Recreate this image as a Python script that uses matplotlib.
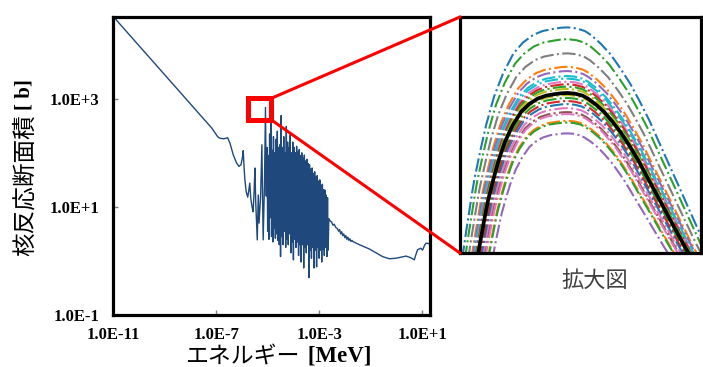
import numpy as np
import matplotlib
matplotlib.use("Agg")
import matplotlib.pyplot as plt
from matplotlib.patches import Rectangle, ConnectionPatch
from matplotlib.ticker import NullLocator

# ---------------- main chart data (log10 of energy [MeV] and cross section [b]) ----------------
log10_e_thermal = [-11.00, -7.18, -6.95, -6.86, -6.72, -6.62, -6.56, -6.47, -6.34, -6.21, -6.12, -6.04, -5.98, -5.955]
log10_xs_thermal = [4.52, 2.46, 2.30, 2.27, 2.26, 2.27, 2.28, 2.18, 1.96, 1.81, 1.75, 1.78, 1.93, 2.04]

log10_e_low_res = [-5.92, -5.89, -5.84, -5.78, -5.74, -5.70, -5.66, -5.61, -5.57, -5.53, -5.50,
                   -5.47, -5.43, -5.41, -5.37, -5.34, -5.28, -5.23, -5.18, -5.13, -5.09, -5.06]
log10_xs_low_res = [1.72, 1.50, 1.28, 1.18, 1.30, 1.44, 1.15, 1.00, 0.91, 1.30, 1.72,
                    1.10, 0.60, 0.39, 1.22, 0.70, 1.19, 2.15, 0.39, 1.40, 2.84, 1.20]

log10_e_res = [
    -5.030, -5.005, -4.980, -4.955, -4.930, -4.905, -4.880, -4.855, -4.830, -4.805,
    -4.780, -4.755, -4.730, -4.705, -4.680, -4.655, -4.630, -4.605, -4.580, -4.555,
    -4.530, -4.505, -4.480, -4.455, -4.430, -4.405, -4.380, -4.355, -4.330, -4.305,
    -4.280, -4.255, -4.230, -4.205, -4.180, -4.155, -4.130, -4.105, -4.080, -4.055,
    -4.030, -4.005, -3.980, -3.955, -3.930, -3.905, -3.880, -3.855, -3.830, -3.805,
    -3.780, -3.755, -3.730, -3.705, -3.680, -3.655, -3.630, -3.605, -3.580, -3.555,
    -3.530, -3.505, -3.480, -3.455, -3.430, -3.405, -3.380, -3.355, -3.330, -3.305,
    -3.280, -3.255, -3.230, -3.205, -3.180, -3.155, -3.130, -3.105, -3.080, -3.055,
    -3.030, -3.005, -2.980, -2.955, -2.930, -2.905, -2.880, -2.855, -2.830, -2.805,
    -2.780, -2.755, -2.730, -2.705, -2.680, -2.655]
log10_xs_res = [
    2.10, 0.55, 1.95, 0.40, 2.35, 0.80, 2.76, 0.45, 2.05, 0.35,
    2.30, 0.60, 2.00, 0.42, 2.25, 0.50, 2.40, 0.38, 2.10, 0.30,
    2.15, 0.08, 2.69, 0.45, 2.10, 0.30, 2.30, 0.55, 2.00, 0.25,
    2.49, 0.40, 2.20, 0.30, 2.10, 0.50, 2.33, 0.15, 2.00, 0.35,
    2.20, 0.02, 2.10, 0.40, 2.00, 0.25, 2.12, 0.35, 2.02, 0.10,
    2.06, 0.30, 1.95, -0.02, 2.00, 0.30, 1.90, -0.13, 1.96, 0.25,
    1.85, 0.15, 1.88, 0.30, 1.80, -0.31, 1.78, 0.20, 1.70, 0.05,
    1.72, 0.25, 1.62, -0.13, 1.65, 0.20, 1.55, -0.11, 1.58, 0.25,
    1.48, 0.05, 1.50, 0.20, 1.40, -0.02, 1.42, 0.22, 1.32, 0.10,
    1.31, 0.25, 1.22, 0.08, 1.17, 0.20]

log10_e_fast = [-2.63, -2.58, -2.52, -2.47, -2.42, -2.36, -2.30, -2.25, -2.21, -2.17, -2.13, -2.09,
                -2.05, -2.01, -1.97, -1.93, -1.89, -1.85, -1.81, -1.77, -1.73, -1.70, -1.44, -1.05,
                -0.54, -0.28, -0.02, 0.37, 0.55, 0.69, 0.74, 0.82, 0.95, 1.01, 1.10, 1.15, 1.25, 1.30]
log10_xs_fast = [0.78, 0.74, 0.72, 0.66, 0.68, 0.62, 0.60, 0.55, 0.58, 0.50, 0.54, 0.47,
                 0.50, 0.43, 0.47, 0.40, 0.44, 0.38, 0.41, 0.36, 0.38, 0.36, 0.30, 0.22,
                 0.08, 0.04, 0.05, 0.09, 0.06, 0.02, 0.10, 0.21, 0.235, 0.20, 0.30, 0.33, 0.32, 0.32]

x_ticks = [1e-11, 1e-7, 1e-3, 1e1]
x_tick_labels = ["1.0E-11", "1.0E-7", "1.0E-3", "1.0E+1"]
y_ticks = [1e-1, 1e1, 1e3]
y_tick_labels = ["1.0E-1", "1.0E+1", "1.0E+3"]

zoom_box_energy = [1.76e-6, 1.37e-5]
zoom_box_xs = [407, 1021]

# ---------------- inset (magnified peak) data ----------------
inset_profile_dx = [-0.50, -0.45, -0.40, -0.372, -0.36, -0.35, -0.34, -0.331, -0.31, -0.29,
                    -0.262, -0.23, -0.193, -0.16, -0.124, -0.09, -0.055, -0.025, 0.0,
                    0.03, 0.06, 0.082, 0.115, 0.151, 0.185, 0.220, 0.255, 0.289, 0.323,
                    0.358, 0.392, 0.427, 0.455, 0.482, 0.50, 0.55, 0.65]
inset_profile_y = [-0.75, -0.45, -0.16, 0.000, 0.07, 0.125, 0.18, 0.225, 0.31, 0.385,
                   0.470, 0.540, 0.600, 0.632, 0.655, 0.667, 0.673, 0.677, 0.678,
                   0.675, 0.667, 0.655, 0.630, 0.597, 0.556, 0.510, 0.455, 0.398, 0.333,
                   0.267, 0.203, 0.136, 0.083, 0.032, 0.000, -0.10, -0.30]
inset_peak_x = 0.448
inset_ref_peak = 0.678
inset_peaks = [0.956, 0.906, 0.846, 0.789, 0.771, 0.750, 0.739, 0.726, 0.715, 0.705, 0.695,
               0.669, 0.657, 0.644, 0.631, 0.614, 0.597, 0.589, 0.560, 0.553, 0.507]
inset_widths = [1.170, 1.139, 1.103, 1.068, 1.057, 1.044, 1.037, 1.029, 1.023, 1.017, 1.010,
                0.991, 0.979, 0.966, 0.953, 0.937, 0.920, 0.912, 0.883, 0.876, 0.830]
inset_colors = ["#1f77b4", "#2ca02c", "#7f7f7f", "#ff7f0e", "#9467bd", "#17becf", "#17becf",
                "#e377c2", "#d62728", "#2ca02c", "#bcbd22",
                "#bcbd22", "#2ca02c", "#d62728", "#1f77b4", "#e377c2", "#8c564b", "#e377c2",
                "#ff7f0e", "#2ca02c", "#9467bd"]

# ---------------- figure ----------------
fig = plt.figure(figsize=(7.03, 3.67), dpi=100)
ax = fig.add_axes([0.1612, 0.1417, 0.4505, 0.8128])

log_e = np.concatenate([log10_e_thermal, log10_e_low_res, log10_e_res, log10_e_fast])
log_xs = np.concatenate([log10_xs_thermal, log10_xs_low_res, log10_xs_res, log10_xs_fast])
ax.plot(10 ** log_e, 10 ** log_xs, color="#1F497D", lw=1.0)

ax.set_xscale("log")
ax.set_yscale("log")
ax.set_xlim(1e-11, 20)
ax.set_ylim(0.1, 3.3e4)
ax.set_xticks(x_ticks)
ax.set_yticks(y_ticks)
ax.xaxis.set_minor_locator(NullLocator())
ax.yaxis.set_minor_locator(NullLocator())
tick_font = dict(family="Liberation Serif", weight="bold", size=12)
ax.set_xticklabels(x_tick_labels, **tick_font)
ax.set_yticklabels(y_tick_labels, **tick_font)
ax.tick_params(axis="both", direction="in", length=3.6, width=1.0, color="#808080")
ax.tick_params(axis="x", pad=9)
ax.tick_params(axis="y", pad=10)
for sp in ax.spines.values():
    sp.set_linewidth(2.3)
    sp.set_color("black")

rect = Rectangle((zoom_box_energy[0], zoom_box_xs[0]),
                 zoom_box_energy[1] - zoom_box_energy[0],
                 zoom_box_xs[1] - zoom_box_xs[0],
                 fill=False, edgecolor="#FF0000", lw=3.6, zorder=5)
ax.add_patch(rect)

# inset
axin = fig.add_axes([0.6543, 0.3106, 0.3428, 0.6431])
axin.set_xlim(0, 1)
axin.set_ylim(0, 1)
axin.set_xticks([])
axin.set_yticks([])
for sp in axin.spines.values():
    sp.set_linewidth(2.3)
    sp.set_color("black")

dx = np.array(inset_profile_dx)
py = np.array(inset_profile_y)
for pk, w, c in zip(inset_peaks, inset_widths, inset_colors):
    axin.plot(inset_peak_x + dx * w, py * pk / inset_ref_peak, ls="-.", color=c, lw=1.5)
axin.plot(inset_peak_x + dx, py, color="black", lw=2.7, zorder=5)

# red connector lines
for yA, yB in [(zoom_box_xs[1], 1.0), (zoom_box_xs[0], 0.0)]:
    con = ConnectionPatch(xyA=(zoom_box_energy[1], yA), coordsA=ax.transData,
                          xyB=(0.0, yB), coordsB=axin.transAxes,
                          color="#FF0000", lw=2.2, zorder=10)
    fig.add_artist(con)

# labels
fig.text(25 / 703, (367 - 256) / 367, "核反応断面積", rotation=90, ha="center", va="bottom",
         family="Noto Sans CJK JP", size=17)
fig.text(25 / 703, (367 - 110) / 367, "[ b]", rotation=90, ha="center", va="bottom",
         family="Liberation Serif", weight="bold", size=15)
fig.text(299 / 703, (367 - 356) / 367, "エネルギー", ha="right", va="center",
         family="Noto Sans CJK JP", size=16.5)
fig.text(302 / 703, (367 - 356) / 367, " [MeV]", ha="left", va="center",
         family="Liberation Serif", weight="bold", size=16.5)
fig.text(595 / 703, (367 - 280) / 367, "拡大図", ha="center", va="center",
         family="Noto Sans CJK JP", size=16, color="#404040")

fig.savefig("out.png", dpi=100)
